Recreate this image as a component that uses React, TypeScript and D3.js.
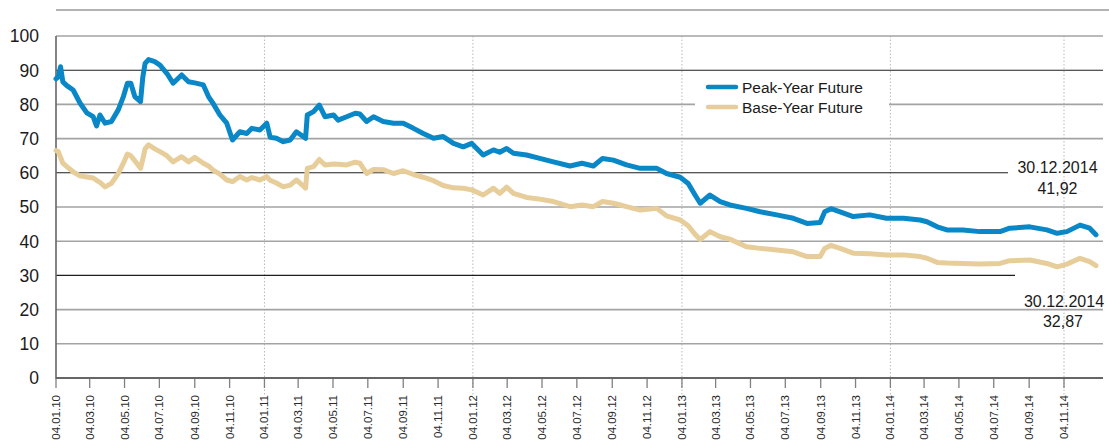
import React from "react";
import * as d3 from "d3";

// ---- data ----
const dates: string[] = [
  // 2010
  "04.01.10","08.01.10","12.01.10","16.01.10","23.01.10","03.02.10","15.02.10","27.02.10","10.03.10","16.03.10",
  "22.03.10","31.03.10","11.04.10","23.04.10","02.05.10","09.05.10","15.05.10","22.05.10","01.06.10","05.06.10",
  "09.06.10","15.06.10","26.06.10","05.07.10","17.07.10","28.07.10","12.08.10","24.08.10","04.09.10","19.09.10",
  "28.09.10","06.10.10","18.10.10","30.10.10","09.11.10","22.11.10","04.12.10","13.12.10","27.12.10",
  // 2011
  "08.01.11","14.01.11","25.01.11","06.02.11","18.02.11","01.03.11","17.03.11","20.03.11","31.03.11","10.04.11",
  "20.04.11","05.05.11","13.05.11","28.05.11","12.06.11","20.06.11","02.07.11","14.07.11","31.07.11","18.08.11",
  "04.09.11","22.09.11","09.10.11","27.10.11","13.11.11","01.12.11","18.12.11",
  // 2012
  "02.01.12","22.01.12","09.02.12","20.02.12","03.03.12","15.03.12","07.04.12","30.04.12","24.05.12","22.06.12",
  "13.07.12","02.08.12","18.08.12","06.09.12","29.09.12","23.10.12","21.11.12","08.12.12",
  // 2013
  "01.01.13","15.01.13","27.01.13","05.02.13","22.02.13","12.03.13","29.03.13","27.04.13","21.05.13","19.06.13",
  "18.07.13","11.08.13","03.09.13","11.09.13","22.09.13","08.10.13","31.10.13","29.11.13","28.12.13",
  // 2014
  "27.01.14","25.02.14","09.03.14","27.03.14","13.04.14","11.05.14","10.06.14","15.07.14","01.08.14","05.09.14",
  "05.10.14","23.10.14","09.11.14","02.12.14","19.12.14","30.12.14",
];

const peakValues: number[] = [
  // 2010
  87.5, 88, 91, 86.6, 85.5, 84.2, 80.4, 77.5, 76.4, 73.7,
  76.9, 74.5, 75, 78.4, 82.3, 86.2, 86.2, 82.3, 80.8, 88,
  92, 93.1, 92.5, 91.5, 89.1, 86.2, 88.6, 86.6, 86.3, 85.7,
  82.3, 80.3, 76.9, 74.5, 69.6, 72, 71.5, 73, 72.5,
  // 2011
  74.5, 70.4, 70.1, 69.1, 69.6, 72, 70.1, 76.9, 77.9, 79.8,
  76.4, 76.9, 75.4, 76.4, 77.4, 77.2, 75, 76.4, 75, 74.5,
  74.5, 73, 71.5, 70.1, 70.6, 68.6, 67.6,
  // 2012
  68.6, 65.2, 66.7, 66, 67.1, 65.7, 65.2, 64.2, 63.2, 62,
  62.8, 62, 64.2, 63.7, 62.3, 61.3, 61.3, 59.8,
  // 2013
  58.7, 56.9, 53.5, 51.1, 53.5, 51.6, 50.6, 49.6, 48.6, 47.7,
  46.7, 45.2, 45.5, 48.6, 49.5, 48.6, 47.2, 47.7, 46.7,
  // 2014
  46.7, 46.2, 45.7, 44.2, 43.3, 43.3, 42.8, 42.8, 43.8, 44.2,
  43.3, 42.3, 42.8, 44.7, 43.8, 41.92,
];

const baseValues: number[] = [
  // 2010
  66.5, 66.2, 64.5, 62.8, 61.8, 60.3, 59.1, 58.8, 58.5, 57.8,
  57.2, 55.9, 56.9, 59.8, 62.8, 65.5, 65, 63.5, 61.3, 64,
  67, 68.2, 67, 66.2, 65, 63.2, 64.7, 63.2, 64.5, 62.8,
  62, 60.8, 59.6, 57.9, 57.4, 58.9, 57.9, 58.6, 57.9,
  // 2011
  58.9, 57.8, 57, 55.9, 56.4, 57.9, 55.5, 61.3, 61.8, 63.9,
  62.3, 62.6, 62.5, 62.3, 63.1, 62.8, 59.8, 61, 60.9, 59.8,
  60.6, 59.5, 58.7, 57.7, 56.3, 55.6, 55.5,
  // 2012
  55, 53.5, 55.5, 54, 55.8, 54, 52.8, 52.3, 51.6, 50.1,
  50.6, 50.1, 51.6, 51.1, 50.1, 49.1, 49.6, 47.4,
  // 2013
  46.2, 44.5, 42, 40.5, 42.8, 41.3, 40.6, 38.4, 37.9, 37.4,
  36.9, 35.5, 35.5, 37.9, 38.8, 37.9, 36.5, 36.3, 36,
  // 2014
  36, 35.5, 35, 33.8, 33.6, 33.5, 33.3, 33.5, 34.3, 34.5,
  33.5, 32.5, 33.3, 35, 34, 32.87,
];

const tickLabels: string[] = [
  "04.01.10","04.03.10","04.05.10","04.07.10","04.09.10","04.11.10",
  "04.01.11","04.03.11","04.05.11","04.07.11","04.09.11","04.11.11",
  "04.01.12","04.03.12","04.05.12","04.07.12","04.09.12","04.11.12",
  "04.01.13","04.03.13","04.05.13","04.07.13","04.09.13","04.11.13",
  "04.01.14","04.03.14","04.05.14","04.07.14","04.09.14","04.11.14",
];
const dottedDates: string[] = ["04.01.11", "04.01.12", "04.01.13", "04.01.14", "04.11.14"];
const yTicks: number[] = [0, 10, 20, 30, 40, 50, 60, 70, 80, 90, 100];
const darkGridValues: number[] = [30, 60, 90];

const seriesNames = ["Peak-Year Future", "Base-Year Future"];
const endLabelDate = "30.12.2014";
const endPeak = "41,92";
const endBase = "32,87";

// ---- drawing ----
const FONT = "'Liberation Sans', Arial, Helvetica, sans-serif";
const BLUE = "#0987c6";
const TAN = "#e7cd9a";

export default function App() {
  const parse = d3.timeParse("%d.%m.%y");
  const x = d3
    .scaleTime()
    .domain([parse("04.01.10")!, parse("04.11.14")!])
    .range([56, 1064]);
  const y = d3.scaleLinear().domain([0, 100]).range([378, 36]);

  const peak = dates.map((d, i) => ({ date: parse(d)!, v: peakValues[i] }));
  const base = dates.map((d, i) => ({ date: parse(d)!, v: baseValues[i] }));
  const line = d3
    .line<{ date: Date; v: number }>()
    .x((d) => x(d.date))
    .y((d) => y(d.v))
    .curve(d3.curveLinear);

  const left = 56;
  const right = 1103;
  const gridEnd = (v: number) => (v === 60 ? 1008 : v === 30 ? 1015 : right);

  return (
    <svg
      width={1109}
      height={441}
      style={{ position: "absolute", left: 0, top: 0, background: "#fff" }}
      fontFamily={FONT}
    >
      {/* top rule */}
      <line x1={left} x2={1109} y1={10} y2={10} stroke="#9a9a9a" strokeWidth={1.5} />

      {/* dotted year lines */}
      {dottedDates.map((d) => {
        const xx = x(parse(d)!);
        return (
          <line key={d} x1={xx} x2={xx} y1={36} y2={396} stroke="#b8b8b8" strokeWidth={1} strokeDasharray="1.5 2" />
        );
      })}

      {/* gridlines */}
      {yTicks
        .filter((v) => v > 0)
        .map((v) => {
          const dark = darkGridValues.includes(v);
          return (
            <line
              key={v}
              x1={left}
              x2={gridEnd(v)}
              y1={y(v)}
              y2={y(v)}
              stroke={dark ? "#1e1e1e" : "#a3a3a3"}
              strokeWidth={dark ? 1.1 : 1.6}
            />
          );
        })}

      {/* y axis labels */}
      {yTicks.map((v) => (
        <text key={v} x={39} y={y(v)} dy="0.36em" textAnchor="end" fontSize={17.5} fill="#1a1a1a">
          {v}
        </text>
      ))}

      {/* axes */}
      <line x1={left} x2={left} y1={36} y2={379} stroke="#666" strokeWidth={1.6} />
      <line x1={left} x2={right} y1={y(0)} y2={y(0)} stroke="#666" strokeWidth={2} />

      {/* x ticks & labels */}
      {tickLabels.map((t) => {
        const xx = x(parse(t)!);
        return (
          <g key={t}>
            <line x1={xx} x2={xx} y1={379} y2={388} stroke="#808080" strokeWidth={1.3} />
            <text
              transform={`translate(${xx},395) rotate(-90)`}
              textAnchor="end"
              dy="0.35em"
              fontSize={11.5}
              fill="#2a2a2a"
            >
              {t}
            </text>
          </g>
        );
      })}

      {/* series */}
      <path d={line(base) || ""} fill="none" stroke={TAN} strokeWidth={5} strokeLinejoin="round" strokeLinecap="round" />
      <path d={line(peak) || ""} fill="none" stroke={BLUE} strokeWidth={5} strokeLinejoin="round" strokeLinecap="round" />

      {/* legend */}
      <rect x={695} y={76} width={194} height={42} fill="#fff" />
      <line x1={708} x2={736} y1={87} y2={87} stroke={BLUE} strokeWidth={4.5} strokeLinecap="round" />
      <text x={742} y={93} fontSize={15.5} fill="#1a1a1a">{seriesNames[0]}</text>
      <line x1={708} x2={736} y1={107} y2={107} stroke={TAN} strokeWidth={4.5} strokeLinecap="round" />
      <text x={742} y={113} fontSize={15.5} fill="#1a1a1a">{seriesNames[1]}</text>

      {/* end annotations */}
      <text x={1057.5} y={172.5} textAnchor="middle" fontSize={16} fill="#1a1a1a">{endLabelDate}</text>
      <text x={1057.5} y={193.5} textAnchor="middle" fontSize={16} fill="#1a1a1a">{endPeak}</text>
      <text x={1064} y={306.5} textAnchor="middle" fontSize={16} fill="#1a1a1a">{endLabelDate}</text>
      <text x={1063} y={327} textAnchor="middle" fontSize={16} fill="#1a1a1a">{endBase}</text>
    </svg>
  );
}
